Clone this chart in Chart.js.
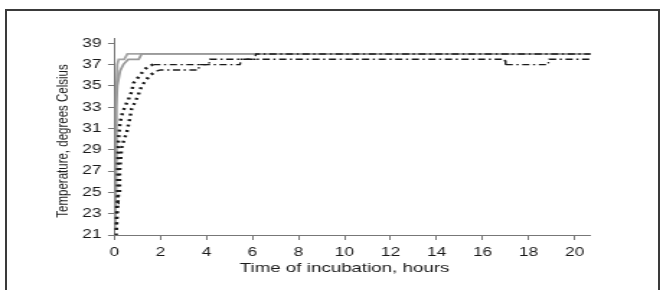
<!DOCTYPE html>
<html>
<head>
<meta charset="utf-8">
<script src="https://cdn.jsdelivr.net/npm/chart.js@4"></script>
<style>
  html, body { margin: 0; padding: 0; background: #fff; }
  #page { position: relative; width: 663px; height: 290px; overflow: hidden; background: #fff; }
  #frame { position: absolute; left: 5px; top: 9px; width: 651px; height: 290px;
           border: 2px solid #3a3a3a; border-bottom: none; }
  /* the original picture is stretched sideways, so the chart is too */
  #wrap { position: absolute; left: 0; top: 0; width: 460px; height: 290px;
          transform: scaleX(1.4413); transform-origin: 0 0; }
</style>
</head>
<body>
<div id="page">
  <div id="frame"></div>
  <div id="wrap"><canvas id="chart"></canvas></div>
</div>
<script>
const xTickValues = [0, 2, 4, 6, 8, 10, 12, 14, 16, 18, 20];
const yTickValues = [21, 23, 25, 27, 29, 31, 33, 35, 37, 39];

const xTitle = "Time of incubation, hours";
const yTitle = "Temperature, degrees Celsius";

// solid grey, fastest
const hoursA = [0.02, 0.04, 0.06, 0.08, 0.12, 0.18, 0.42, 0.56, 20.7];
const tempA  = [21.5, 25, 30, 34, 37, 37.5, 37.5, 38, 38];

// solid grey, second
const hoursB = [0.03, 0.05, 0.07, 0.12, 0.24, 0.38, 0.6, 1.05, 1.18, 20.7];
const tempB  = [22, 28, 33, 35, 36.4, 37, 37.5, 37.5, 38, 38];

// dotted, left
const hoursC = [0.04, 0.07, 0.1, 0.14, 0.17, 0.24, 0.35, 0.46, 0.6, 0.75, 0.82, 1.03, 1.18, 1.32, 1.5, 1.68,
                5.45, 5.5, 16.96, 17.0, 18.84, 18.9, 20.7];
const tempC  = [21, 22.5, 24, 26.5, 29.9, 31.6, 32.5, 33.1, 33.7, 34.5, 35.25, 35.8, 36.2, 36.56, 36.9, 37,
                37, 37.5, 37.5, 37, 37, 37.5, 37.5];

// dotted, right
const hoursD = [0.08, 0.12, 0.17, 0.22, 0.31, 0.42, 0.53, 0.65, 0.75, 0.9, 1.03, 1.18, 1.32, 1.54, 1.83, 2.0,
                3.64, 3.7, 4.1, 4.15, 6.1, 6.15, 20.7];
const tempD  = [21.5, 23, 25, 27, 29.2, 30, 30.6, 31.8, 32.9, 33.5, 34.15, 35.0, 35.4, 36.0, 36.4, 36.5,
                36.5, 37, 37, 37.5, 37.5, 38, 38];

const toPoints = (xs, ys) => xs.map((x, i) => ({ x: x, y: ys[i] }));

const FONT = "'Liberation Sans', Arial, sans-serif";

// dotted while rising, dash-dot once on the plateau
function riseThenPlateau(start) {
  return {
    borderDash: ctx => ctx.p0.parsed.x >= start ? [5, 2.5, 1.5, 2.5] : [2, 3.5],
    borderWidth: ctx => ctx.p0.parsed.x >= start ? 1.4 : 2.4
  };
}

// axis titles: the original centres them a bit off the axis box, so place them by hand
const axisTitles = {
  id: "axisTitles",
  afterDraw(chart) {
    const { ctx, scales } = chart;
    ctx.save();
    ctx.fillStyle = "#1a1a1a";
    ctx.textAlign = "center";
    ctx.textBaseline = "middle";

    ctx.font = "13px " + FONT;
    ctx.fillText(xTitle, scales.x.getPixelForValue(10), 268.7);

    ctx.font = "11.5px " + FONT;
    ctx.translate(43.4, (scales.y.top + scales.y.bottom) / 2 + 4.5);
    ctx.rotate(-Math.PI / 2);
    ctx.fillText(yTitle, 0, 0);
    ctx.restore();
  }
};

new Chart(document.getElementById("chart"), {
  type: "line",
  data: {
    datasets: [
      { data: toPoints(hoursC, tempC), borderColor: "#1a1a1a", borderWidth: 2, segment: riseThenPlateau(1.68) },
      { data: toPoints(hoursD, tempD), borderColor: "#1a1a1a", borderWidth: 2, segment: riseThenPlateau(1.83) },
      { data: toPoints(hoursB, tempB), borderColor: "#9a9a9a", borderWidth: 1.8 },
      { data: toPoints(hoursA, tempA), borderColor: "#a5a5a5", borderWidth: 1.8 }
    ]
  },
  options: {
    responsive: true,
    maintainAspectRatio: false,
    animation: false,
    elements: { point: { radius: 0 }, line: { tension: 0 } },
    layout: { padding: { left: 36, right: 50.17, top: 38, bottom: 14.2 } },
    plugins: { legend: { display: false }, tooltip: { enabled: false } },
    scales: {
      x: {
        type: "linear",
        min: 0,
        max: 20.7,
        afterBuildTicks: s => { s.ticks = xTickValues.map(v => ({ value: v })); },
        afterFit: s => { s.height = 40.8; },
        grid: { drawOnChartArea: false, drawTicks: true, tickLength: 5, color: "#777", lineWidth: 1 },
        border: { display: true, color: "#777", width: 1 },
        ticks: { autoSkip: false, maxRotation: 0, padding: 5, color: "#1a1a1a", font: { family: FONT, size: 12 } }
      },
      y: {
        min: 21,
        max: 39.5,
        afterBuildTicks: s => { s.ticks = yTickValues.map(v => ({ value: v })); },
        afterFit: s => { s.width = 43.44; },
        grid: { drawOnChartArea: false, drawTicks: true, tickLength: 4.5, color: "#777", lineWidth: 1 },
        border: { display: true, color: "#777", width: 1 },
        ticks: { autoSkip: false, padding: 4.5, color: "#1a1a1a", font: { family: FONT, size: 12 } }
      }
    }
  },
  plugins: [axisTitles]
});
</script>
</body>
</html>
